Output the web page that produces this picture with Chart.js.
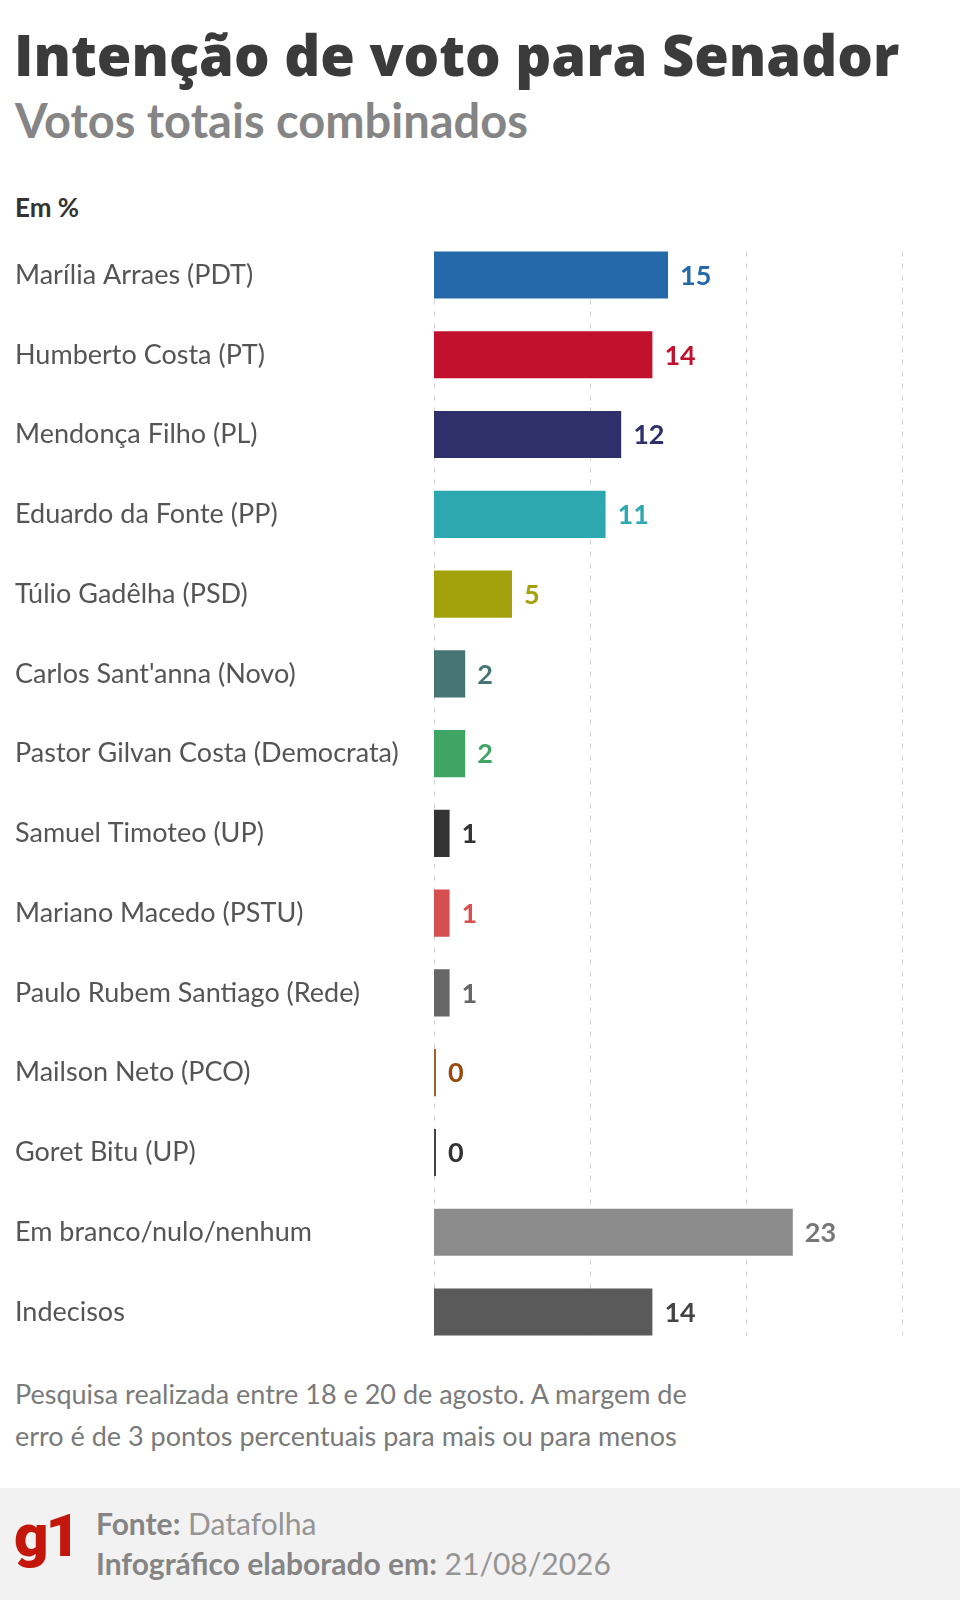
<!DOCTYPE html>
<html><head><meta charset="utf-8">
<script src="https://cdn.jsdelivr.net/npm/chart.js@4.4.1/dist/chart.umd.min.js"></script>
<style>
html,body{margin:0;padding:0;background:#fff;}
body{width:960px;height:1600px;position:relative;overflow:hidden;font-family:Lato,"Noto Sans",sans-serif;}
#title{position:absolute;left:14px;top:22px;font-family:"Open Sans",Lato,sans-serif;font-size:56px;font-weight:800;color:#3b3b3b;line-height:64px;white-space:nowrap;}
#sub{position:absolute;left:15px;top:97px;font-family:Lato,sans-serif;font-size:47px;font-weight:700;color:#858585;line-height:47px;white-space:nowrap;}
#unit{position:absolute;left:15px;top:194px;font-family:Lato,sans-serif;font-size:26px;font-weight:700;color:#333;line-height:26px;}
#chartBox{position:absolute;left:0;top:219px;width:960px;height:1149px;}
#note{position:absolute;left:15px;top:1373px;font-family:Lato,sans-serif;font-size:27px;color:#7a7a7a;line-height:42px;white-space:nowrap;}
#footer{position:absolute;left:0;top:1488px;width:960px;height:112px;background:#f2f2f2;}
#logo{position:absolute;left:14px;top:18px;font-family:Roboto,"Noto Sans",sans-serif;font-size:60px;font-weight:900;color:#c4170c;letter-spacing:-3px;line-height:60px;}
#f1{position:absolute;left:96px;top:18px;font-family:Lato,sans-serif;font-size:30px;color:#959595;line-height:34px;white-space:nowrap;}
#f2{position:absolute;left:96px;top:58px;font-family:Lato,sans-serif;font-size:30px;color:#959595;line-height:34px;white-space:nowrap;}
#f1 b,#f2 b{font-weight:700;color:#858585;}
</style>
</head><body>
<div id="title">Intenção de voto para Senador</div>
<div id="sub">Votos totais combinados</div>
<div id="unit">Em %</div>
<div id="chartBox"><canvas id="c" width="960" height="1149"></canvas></div>
<div id="note">Pesquisa realizada entre 18 e 20 de agosto. A margem de<br>erro é de 3 pontos percentuais para mais ou para menos</div>
<div id="footer">
  <div id="logo">g1</div>
  <div id="f1"><b>Fonte:</b> Datafolha</div>
  <div id="f2"><b>Infográfico elaborado em:</b> 21/08/2026</div>
</div>
<script>
const categories = [
  "Marília Arraes (PDT)",
  "Humberto Costa (PT)",
  "Mendonça Filho (PL)",
  "Eduardo da Fonte (PP)",
  "Túlio Gadêlha (PSD)",
  "Carlos Sant'anna (Novo)",
  "Pastor Gilvan Costa (Democrata)",
  "Samuel Timoteo (UP)",
  "Mariano Macedo (PSTU)",
  "Paulo Rubem Santiago (Rede)",
  "Mailson Neto (PCO)",
  "Goret Bitu (UP)",
  "Em branco/nulo/nenhum",
  "Indecisos"
];
const values = [15, 14, 12, 11, 5, 2, 2, 1, 1, 1, 0, 0, 23, 14];
const xTicks = [0, 10, 20, 30];

const barColors = ["#2569ab","#c1112d","#2f306b","#2ea8b0","#a3a10b","#477575","#3ea564","#333333","#d64f50","#666666","#a0622e","#444444","#8c8c8c","#5a5a5a"];
const valueColors = ["#2569ab","#c1112d","#2f306b","#2ea8b0","#a3a10b","#477575","#3ea564","#333333","#d64f50","#666666","#9a4a10","#333333","#777777","#444444"];

const gridPlugin = {
  id: 'dashGrid',
  beforeDatasetsDraw(chart) {
    const x = chart.scales.x;
    const meta = chart.getDatasetMeta(0);
    const first = meta.data[0], last = meta.data[meta.data.length - 1];
    const top = first.y - first.height / 2;
    const bottom = last.y + last.height / 2;
    const ctx = chart.ctx;
    ctx.save();
    ctx.setLineDash([5, 7]);
    ctx.strokeStyle = '#d2d2d2';
    ctx.lineWidth = 1;
    xTicks.forEach(t => {
      const px = Math.round(x.getPixelForValue(t)) + 0.5;
      ctx.beginPath();
      ctx.moveTo(px, top);
      ctx.lineTo(px, bottom);
      ctx.stroke();
    });
    ctx.restore();
  }
};

const valuePlugin = {
  id: 'valueLabels',
  afterDatasetsDraw(chart) {
    const meta = chart.getDatasetMeta(0);
    const ctx = chart.ctx;
    ctx.save();
    ctx.font = 'bold 27px Lato';
    ctx.textBaseline = 'middle';
    ctx.textAlign = 'left';
    meta.data.forEach((el, i) => {
      ctx.fillStyle = valueColors[i];
      ctx.fillText(String(values[i]), el.x + 12, el.y + 1);
    });
    ctx.restore();
  }
};

new Chart(document.getElementById('c'), {
  type: 'bar',
  data: {
    labels: categories,
    datasets: [{
      data: values,
      backgroundColor: barColors,
      borderWidth: 0,
      barPercentage: 1,
      categoryPercentage: 0.59,
      minBarLength: 2
    }]
  },
  options: {
    indexAxis: 'y',
    responsive: false,
    animation: false,
    devicePixelRatio: 1,
    layout: { padding: { left: 15, right: 58, top: 0, bottom: 0 } },
    plugins: { legend: { display: false }, tooltip: { enabled: false } },
    scales: {
      x: { min: 0, max: 30, display: false },
      y: {
        grid: { display: false },
        border: { display: false },
        ticks: { crossAlign: 'far', padding: 0, color: '#555555', font: { family: 'Lato', size: 27 } },
        afterFit(s) { s.width = 419; }
      }
    }
  },
  plugins: [gridPlugin, valuePlugin]
});
</script>
</body></html>
